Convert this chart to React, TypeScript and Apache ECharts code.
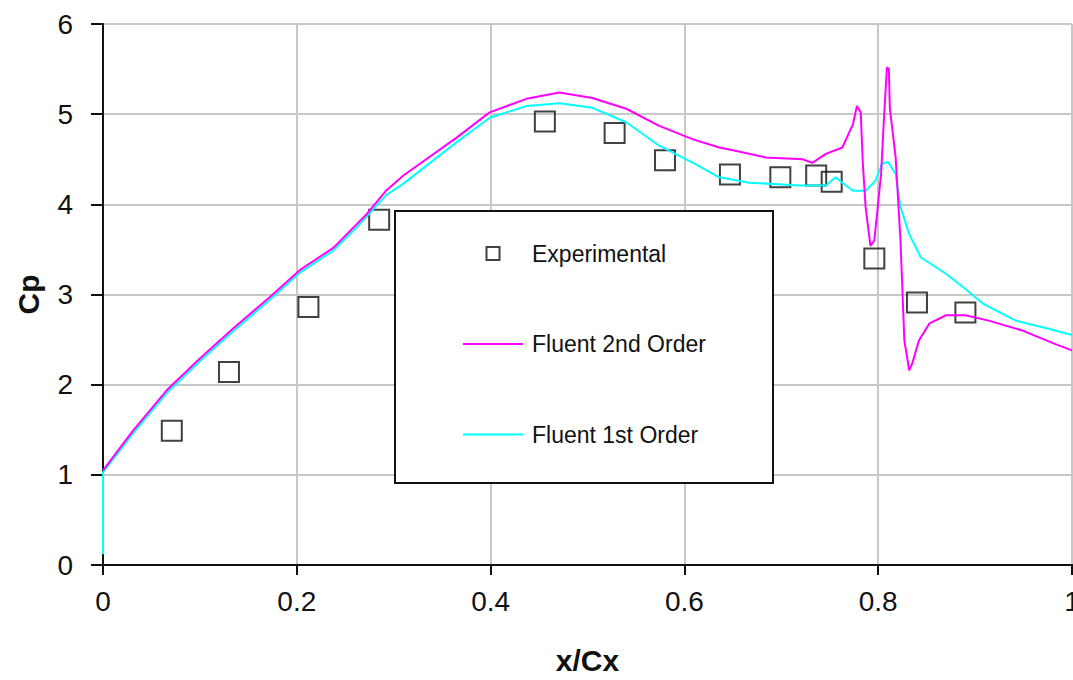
import React, { useEffect, useRef } from "react";
import * as echarts from "echarts";

const xTicks = [0, 0.2, 0.4, 0.6, 0.8, 1];
const yTicks = [0, 1, 2, 3, 4, 5, 6];

const experimental: [number, number][] = [
  [0.071, 1.49], [0.13, 2.14], [0.212, 2.86], [0.285, 3.83], [0.456, 4.92],
  [0.528, 4.79], [0.58, 4.49], [0.647, 4.33], [0.699, 4.3], [0.736, 4.32],
  [0.752, 4.25], [0.796, 3.4], [0.84, 2.91], [0.89, 2.8],
];

const fluent2nd: [number, number][] = [
  [0, 1.05], [0.031, 1.49], [0.066, 1.94], [0.1, 2.29], [0.134, 2.62], [0.172, 2.97],
  [0.203, 3.27], [0.238, 3.52], [0.272, 3.89], [0.292, 4.15], [0.31, 4.32], [0.365, 4.74],
  [0.399, 5.02], [0.437, 5.17], [0.471, 5.24], [0.505, 5.18], [0.54, 5.06], [0.574, 4.87],
  [0.609, 4.72], [0.636, 4.63], [0.65, 4.6], [0.684, 4.52], [0.722, 4.5], [0.732, 4.46],
  [0.746, 4.56], [0.763, 4.63], [0.774, 4.89], [0.778, 5.09], [0.782, 5.02], [0.784, 4.48],
  [0.787, 3.97], [0.792, 3.54], [0.796, 3.6], [0.803, 4.34], [0.806, 4.96], [0.809, 5.52],
  [0.811, 5.5], [0.812, 5.07], [0.818, 4.52], [0.823, 3.6], [0.827, 2.49], [0.832, 2.16],
  [0.835, 2.23], [0.842, 2.49], [0.853, 2.68], [0.87, 2.77], [0.89, 2.77], [0.914, 2.71],
  [0.949, 2.6], [0.983, 2.45], [1.0, 2.38],
];

const fluent1st: [number, number][] = [
  [0, 0.12], [0, 1.03], [0.031, 1.46], [0.066, 1.91], [0.1, 2.26], [0.134, 2.59],
  [0.172, 2.94], [0.203, 3.24], [0.238, 3.49], [0.265, 3.78], [0.292, 4.1], [0.31, 4.23],
  [0.365, 4.69], [0.399, 4.96], [0.437, 5.09], [0.471, 5.12], [0.505, 5.07], [0.54, 4.91],
  [0.574, 4.65], [0.609, 4.46], [0.636, 4.3], [0.667, 4.24], [0.719, 4.21], [0.746, 4.21],
  [0.756, 4.3], [0.763, 4.24], [0.774, 4.15], [0.787, 4.15], [0.797, 4.26], [0.804, 4.45],
  [0.81, 4.47], [0.818, 4.34], [0.823, 3.97], [0.832, 3.67], [0.844, 3.41], [0.87, 3.23],
  [0.89, 3.06], [0.908, 2.9], [0.942, 2.71], [0.976, 2.62], [1.0, 2.55],
];

const seriesNames = ["Experimental", "Fluent 2nd Order", "Fluent 1st Order"];

const FONT = "'Liberation Sans', Arial, sans-serif";
const SQUARE_ICON = "path://M0,0H10V10H0Z";
const LINE_ICON = "path://M0,0H30V1H0Z";

export default function App() {
  const ref = useRef<HTMLDivElement>(null);
  useEffect(() => {
    if (!ref.current) return;
    const chart = echarts.init(ref.current, null, { renderer: "svg", width: 1073, height: 680 });
    chart.setOption({
      animation: false,
      backgroundColor: "#ffffff",
      grid: { left: 103, right: 1, top: 24, bottom: 115, containLabel: false, outerBoundsMode: "none" },
      legend: {
        data: [
          { name: seriesNames[0], icon: SQUARE_ICON },
          { name: seriesNames[1], icon: LINE_ICON },
          { name: seriesNames[2], icon: LINE_ICON },
        ],
        orient: "vertical",
        left: 463,
        top: 242,
        padding: 0,
        itemWidth: 60,
        itemHeight: 13,
        itemGap: 67.5,
        z: 200,
        textStyle: { fontFamily: FONT, fontSize: 23, color: "#111", padding: [0, 0, 0, 4] },
      },
      graphic: [
        {
          type: "rect",
          z: 100,
          shape: { x: 395, y: 211, width: 378, height: 272 },
          style: { fill: "#ffffff", stroke: "#111", lineWidth: 2 },
        },
      ],
      xAxis: [
        {
          type: "value",
          min: xTicks[0],
          max: xTicks[xTicks.length - 1],
          interval: 0.2,
          name: "x/Cx",
          nameLocation: "middle",
          nameGap: 80,
          nameTextStyle: { fontFamily: FONT, fontSize: 30, fontWeight: "bold", color: "#111" },
          axisLine: { show: true, onZero: false, lineStyle: { color: "#111", width: 2 } },
          axisTick: { show: true, inside: false, length: 10, lineStyle: { color: "#111", width: 2 } },
          axisLabel: { margin: 22, fontFamily: FONT, fontSize: 28, color: "#111", formatter: (v: number) => String(Math.round(v * 10) / 10) },
          splitLine: { show: true, lineStyle: { color: "#c8c8c8", width: 2 } },
        },
        {
          type: "value",
          position: "top",
          min: 0,
          max: 1,
          axisLine: { show: true, lineStyle: { color: "#111", width: 2 } },
          axisTick: { show: false },
          axisLabel: { show: false },
          splitLine: { show: false },
        },
      ],
      yAxis: {
        type: "value",
        min: yTicks[0],
        max: yTicks[yTicks.length - 1],
        interval: 1,
        name: "Cp",
        nameLocation: "middle",
        nameGap: 60,
        nameTextStyle: { fontFamily: FONT, fontSize: 30, fontWeight: "bold", color: "#111" },
        axisLine: { show: true, lineStyle: { color: "#111", width: 2 } },
        axisTick: { show: true, inside: false, length: 12, lineStyle: { color: "#111", width: 2 } },
        axisLabel: { margin: 30, fontFamily: FONT, fontSize: 28, color: "#111" },
        splitLine: { show: true, lineStyle: { color: "#c8c8c8", width: 2 } },
      },
      series: [
        {
          name: seriesNames[2],
          type: "line",
          data: fluent1st,
          symbol: "none",
          symbolKeepAspect: true,
          lineStyle: { color: "#00ffff", width: 2 },
          itemStyle: { color: "#00ffff" },
        },
        {
          name: seriesNames[1],
          type: "line",
          data: fluent2nd,
          symbol: "none",
          symbolKeepAspect: true,
          lineStyle: { color: "#ff00ff", width: 2 },
          itemStyle: { color: "#ff00ff" },
        },
        {
          name: seriesNames[0],
          type: "scatter",
          data: experimental,
          symbol: "rect",
          symbolSize: 20,
          symbolKeepAspect: true,
          itemStyle: { color: "rgba(0,0,0,0)", borderColor: "#111", borderWidth: 2 },
        },
      ],
    });
    return () => chart.dispose();
  }, []);
  return (
    <div
      ref={ref}
      style={{ position: "fixed", left: 0, top: 0, width: 1073, height: 680, background: "#fff" }}
    />
  );
}
